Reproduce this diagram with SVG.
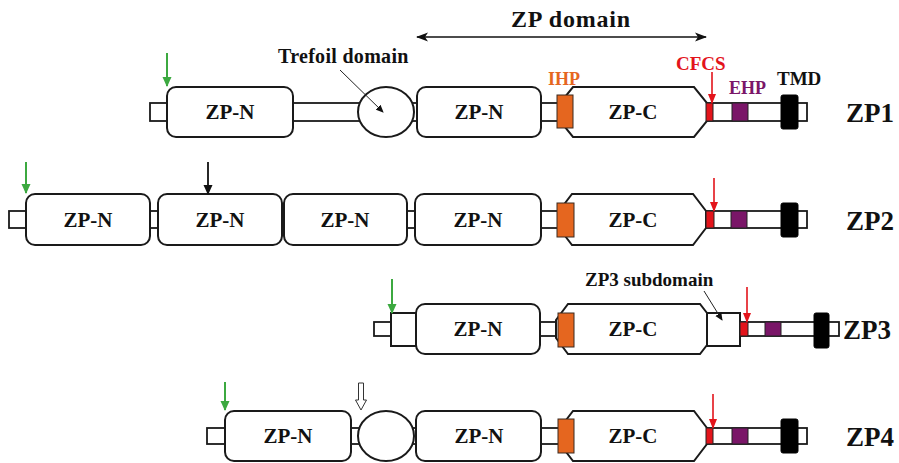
<svg xmlns="http://www.w3.org/2000/svg" width="899" height="463" viewBox="0 0 899 463">
  <defs>
    <style>
      .box{fill:#fff;stroke:#1a1a1a;stroke-width:2}
      .bar{fill:#fff;stroke:#1a1a1a;stroke-width:1.8}
      .ihp{fill:#E5661F;stroke:#3a2a20;stroke-width:1}
      .cfcs{fill:#E3141B;stroke:#222;stroke-width:1}
      .ehp{fill:#7A1668;stroke:#222;stroke-width:1}
      .tmd{fill:#000;stroke:#000;stroke-width:1}
      .g{stroke:#3CA940;stroke-width:2;fill:none}
      .k{stroke:#111;stroke-width:1.8;fill:none}
      .r{stroke:#E3141B;stroke-width:1.6;fill:none}
      .thin{stroke:#222;stroke-width:1;fill:none}
    </style>
    <marker id="hg" markerUnits="userSpaceOnUse" markerWidth="10" markerHeight="10" refX="9" refY="5" orient="auto">
      <path d="M0,0.5 L10,5 L0,9.5 z" fill="#3CA940"/>
    </marker>
    <marker id="hk" markerUnits="userSpaceOnUse" markerWidth="10" markerHeight="10" refX="9" refY="5" orient="auto">
      <path d="M0,0.5 L10,5 L0,9.5 z" fill="#111"/>
    </marker>
    <marker id="hr" markerUnits="userSpaceOnUse" markerWidth="10" markerHeight="10" refX="9" refY="5" orient="auto">
      <path d="M0,1 L10,5 L0,9 z" fill="#E3141B"/>
    </marker>
    <marker id="hs" markerUnits="userSpaceOnUse" markerWidth="8" markerHeight="8" refX="7" refY="4" orient="auto">
      <path d="M0,0.5 L8,4 L0,7.5 z" fill="#111"/>
    </marker>
    <marker id="hd" markerUnits="userSpaceOnUse" markerWidth="12" markerHeight="10" refX="11" refY="5" orient="auto-start-reverse">
      <path d="M0,0.5 L12,5 L0,9.5 L3,5 z" fill="#111"/>
    </marker>
  </defs>

  <g font-family="'Liberation Serif', 'Times New Roman', 'DejaVu Serif', serif" font-weight="bold" fill="#111">
  <!-- header labels -->
  <text x="571" y="27" font-size="24" text-anchor="middle" letter-spacing="0.8">ZP domain</text>
  <text x="278" y="63" font-size="20" letter-spacing="0.3">Trefoil domain</text>
  <text x="548" y="85" font-size="18" fill="#E5661F">IHP</text>
  <text x="676" y="70" font-size="19" fill="#E3141B">CFCS</text>
  <text x="729" y="94" font-size="18" fill="#7A1668">EHP</text>
  <text x="777" y="85" font-size="19">TMD</text>
  <text x="585" y="286" font-size="19">ZP3 subdomain</text>

  <!-- ZP1 -->
  <g id="zp1" font-size="21" text-anchor="middle">
    <rect class="bar" x="150" y="103" width="657" height="18"/>
    <g id="zp1-n1"><rect class="box" x="167" y="87" width="126" height="50" rx="9"/><text x="230" y="119">ZP-N</text></g>
    <g id="zp1-trefoil"><ellipse class="box" cx="386" cy="112" rx="28" ry="25"/></g>
    <g id="zp1-n2"><rect class="box" x="417" y="87" width="124" height="50" rx="9"/><text x="479" y="119">ZP-N</text></g>
    <g id="zp1-c"><path class="box" d="M573,87 H694 L707,103 V121 L694,137 H573 L560,121 V103 Z"/><text x="633" y="119">ZP-C</text></g>
    <rect id="zp1-ihp" class="ihp" x="557" y="95" width="16" height="33"/>
    <rect id="zp1-cfcs" class="cfcs" x="706" y="103" width="7" height="18"/>
    <rect id="zp1-ehp" class="ehp" x="732" y="103" width="16" height="18"/>
    <rect id="zp1-tmd" class="tmd" x="781" y="95" width="17" height="34" rx="2"/>
    <text x="846" y="122" font-size="27" text-anchor="start">ZP1</text>
  </g>

  <!-- ZP2 -->
  <g id="zp2" font-size="21" text-anchor="middle">
    <rect class="bar" x="9" y="211" width="798" height="17"/>
    <g id="zp2-n1"><rect class="box" x="26" y="194" width="124" height="51" rx="9"/><text x="88" y="227">ZP-N</text></g>
    <g id="zp2-n2"><rect class="box" x="158" y="194" width="124" height="51" rx="9"/><text x="220" y="227">ZP-N</text></g>
    <g id="zp2-n3"><rect class="box" x="284" y="194" width="123" height="51" rx="9"/><text x="345" y="227">ZP-N</text></g>
    <g id="zp2-n4"><rect class="box" x="415" y="194" width="126" height="51" rx="9"/><text x="478" y="227">ZP-N</text></g>
    <g id="zp2-c"><path class="box" d="M572,194 H693 L706,211 V228 L693,245 H572 L559,228 V211 Z"/><text x="633" y="227">ZP-C</text></g>
    <rect id="zp2-ihp" class="ihp" x="557" y="203" width="17" height="34"/>
    <rect id="zp2-cfcs" class="cfcs" x="706" y="211" width="8" height="17"/>
    <rect id="zp2-ehp" class="ehp" x="731" y="211" width="16" height="17"/>
    <rect id="zp2-tmd" class="tmd" x="781" y="203" width="17" height="34" rx="2"/>
    <text x="846" y="230" font-size="27" text-anchor="start">ZP2</text>
  </g>

  <!-- ZP3 -->
  <g id="zp3" font-size="21" text-anchor="middle">
    <rect class="bar" x="374" y="322" width="465" height="14"/>
    <g id="zp3-stub"><rect class="box" x="391" y="313" width="25" height="33"/></g>
    <g id="zp3-n"><rect class="box" x="416" y="304" width="124" height="50" rx="9"/><text x="478" y="336">ZP-N</text></g>
    <g id="zp3-c"><path class="box" d="M568,304 H700 L707,313 V345 L700,354 H568 L556,338 V320 Z"/><text x="633" y="336">ZP-C</text></g>
    <rect id="zp3-ihp" class="ihp" x="558" y="313" width="16" height="34"/>
    <g id="zp3-sub"><rect class="box" x="707" y="313" width="33" height="33"/></g>
    <rect id="zp3-cfcs" class="cfcs" x="740" y="322" width="8" height="14"/>
    <rect id="zp3-ehp" class="ehp" x="765" y="322" width="16" height="14"/>
    <rect id="zp3-tmd" class="tmd" x="814" y="313" width="15" height="35" rx="2"/>
    <text x="843" y="339" font-size="27" text-anchor="start">ZP3</text>
  </g>

  <!-- ZP4 -->
  <g id="zp4" font-size="21" text-anchor="middle">
    <rect class="bar" x="207" y="428" width="600" height="16"/>
    <g id="zp4-n1"><rect class="box" x="225" y="411" width="126" height="50" rx="9"/><text x="288" y="443">ZP-N</text></g>
    <g id="zp4-trefoil"><ellipse class="box" cx="386" cy="436" rx="28" ry="25"/></g>
    <g id="zp4-n2"><rect class="box" x="416" y="411" width="125" height="50" rx="9"/><text x="479" y="443">ZP-N</text></g>
    <g id="zp4-c"><path class="box" d="M573,411 H694 L707,428 V444 L694,461 H573 L560,444 V428 Z"/><text x="633" y="443">ZP-C</text></g>
    <rect id="zp4-ihp" class="ihp" x="558" y="419" width="16" height="34"/>
    <rect id="zp4-cfcs" class="cfcs" x="706" y="428" width="7" height="16"/>
    <rect id="zp4-ehp" class="ehp" x="732" y="428" width="16" height="16"/>
    <rect id="zp4-tmd" class="tmd" x="781" y="419" width="17" height="34" rx="2"/>
    <text x="846" y="446" font-size="27" text-anchor="start">ZP4</text>
  </g>
  </g>

  <!-- connectors: cleavage-site arrows and pointers -->
  <g id="connectors">
    <line x1="417" y1="37" x2="706" y2="37" class="k" style="stroke-width:1.6" marker-start="url(#hd)" marker-end="url(#hd)"/>
    <line x1="340" y1="70" x2="383" y2="112" class="thin" marker-end="url(#hs)"/>
    <line x1="704" y1="291" x2="722" y2="320" class="thin" marker-end="url(#hs)"/>

    <line x1="167" y1="53" x2="167" y2="86" class="g" marker-end="url(#hg)"/>
    <line x1="712" y1="72" x2="712" y2="103" class="r" marker-end="url(#hr)"/>

    <line x1="26" y1="162" x2="26" y2="193" class="g" marker-end="url(#hg)"/>
    <line x1="208" y1="162" x2="208" y2="194" class="k" marker-end="url(#hk)"/>
    <line x1="714" y1="178" x2="714" y2="211" class="r" marker-end="url(#hr)"/>

    <line x1="392" y1="279" x2="392" y2="313" class="g" marker-end="url(#hg)"/>
    <line x1="747" y1="287" x2="747" y2="322" class="r" marker-end="url(#hr)"/>

    <line x1="225" y1="382" x2="225" y2="410" class="g" marker-end="url(#hg)"/>
    <path d="M358.5,383 H363.5 V400 H366.5 L361,410 L355.5,400 H358.5 Z" fill="#fff" stroke="#333" stroke-width="1"/>
    <line x1="713" y1="394" x2="713" y2="428" class="r" marker-end="url(#hr)"/>
  </g>
</svg>
